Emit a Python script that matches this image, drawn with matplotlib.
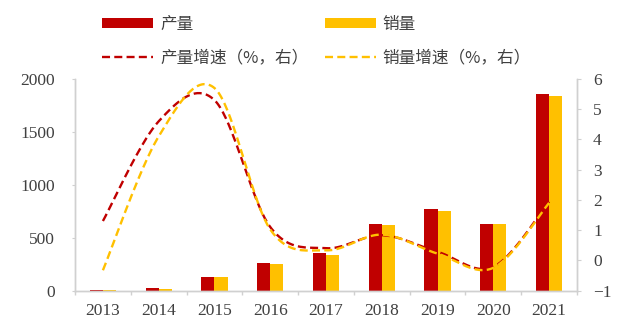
import matplotlib.pyplot as plt
import numpy as np

plt.rcParams["font.family"] = ["Liberation Serif", "Noto Sans CJK SC"]

years = ["2013", "2014", "2015", "2016", "2017", "2018", "2019", "2020", "2021"]
production = [0.3, 19, 128, 260, 352, 628, 770, 631, 1861]
sales = [0.2, 17, 128, 250, 336, 618, 755, 631, 1842]
prod_growth = [1.30, 4.60, 5.30, 1.10, 0.40, 0.83, 0.28, -0.22, 1.94]
sales_growth = [-0.33, 4.10, 5.70, 1.02, 0.33, 0.85, 0.22, -0.25, 1.90]

red = "#C00000"
yellow = "#FFC000"
grey = "#D0D0D0"
text_c = "#404040"


def smooth(ys, n=40):
    # excel style smoothed line: bezier segments with 1/6 tangents
    pts = np.column_stack([np.arange(len(ys)), ys]).astype(float)
    out = []
    for i in range(len(pts) - 1):
        p0 = pts[max(i - 1, 0)]
        p1 = pts[i]
        p2 = pts[i + 1]
        p3 = pts[min(i + 2, len(pts) - 1)]
        c1 = p1 + (p2 - p0) / 6
        c2 = p2 - (p3 - p1) / 6
        t = np.linspace(0, 1, n)[:, None]
        seg = ((1 - t) ** 3) * p1 + 3 * ((1 - t) ** 2) * t * c1 + 3 * (1 - t) * t**2 * c2 + t**3 * p2
        out.append(seg if i == 0 else seg[1:])
    out = np.vstack(out)
    return out[:, 0], out[:, 1]


fig = plt.figure(figsize=(6.38, 3.22), dpi=100)
ax = fig.add_axes([0.1176, 0.0978, 0.7868, 0.6569])
x = np.arange(len(years))
w = 0.235
b1 = ax.bar(x - w / 2, production, w, color=red, label="产量")
b2 = ax.bar(x + w / 2, sales, w, color=yellow, label="销量")
ax.set_xlim(-0.5, len(years) - 0.5)
ax.set_ylim(0, 2000)
ax.set_yticks(np.arange(0, 2001, 500))

ax2 = ax.twinx()
sx, sy = smooth(prod_growth)
(l1,) = ax2.plot(sx, sy, color=red, lw=1.7, label="产量增速（%，右）")
l1.set_dashes([3.4, 1.8])
sx, sy = smooth(sales_growth)
(l2,) = ax2.plot(sx, sy, color=yellow, lw=1.7, label="销量增速（%，右）")
l2.set_dashes([3.4, 1.8])
ax2.set_ylim(-1, 6)
ax2.set_yticks(np.arange(-1, 7, 1))

ax.set_xticks(x)
ax.set_xticklabels(years)
ax.set_xticks(np.arange(-0.5, len(years), 1), minor=True)
ax.tick_params(axis="x", which="major", length=0, pad=9, labelsize=12.5, labelcolor=text_c)
ax.tick_params(axis="x", which="minor", length=3, color=grey, width=1)
ax.tick_params(axis="y", length=2.5, color=grey, pad=12, labelsize=12.5, labelcolor=text_c)
ax2.tick_params(axis="y", length=3, color=grey, pad=8.5, labelsize=12.5, labelcolor=text_c)

for a in (ax, ax2):
    for s in a.spines.values():
        s.set_color(grey)
        s.set_linewidth(1)
    a.spines["top"].set_visible(False)

fig.legend(
    handles=[b1, l1, b2, l2],
    ncol=2,
    loc="upper left",
    bbox_to_anchor=(102 / 638, 1 - 16 / 322),
    frameon=False,
    borderpad=0,
    borderaxespad=0,
    handlelength=3.06,
    handleheight=0.55,
    handletextpad=0.42,
    columnspacing=1.0,
    labelspacing=1.0,
    prop={"family": ["Noto Sans CJK SC"], "size": 12},
    labelcolor=text_c,
)

fig.savefig("out.png", dpi=100)
